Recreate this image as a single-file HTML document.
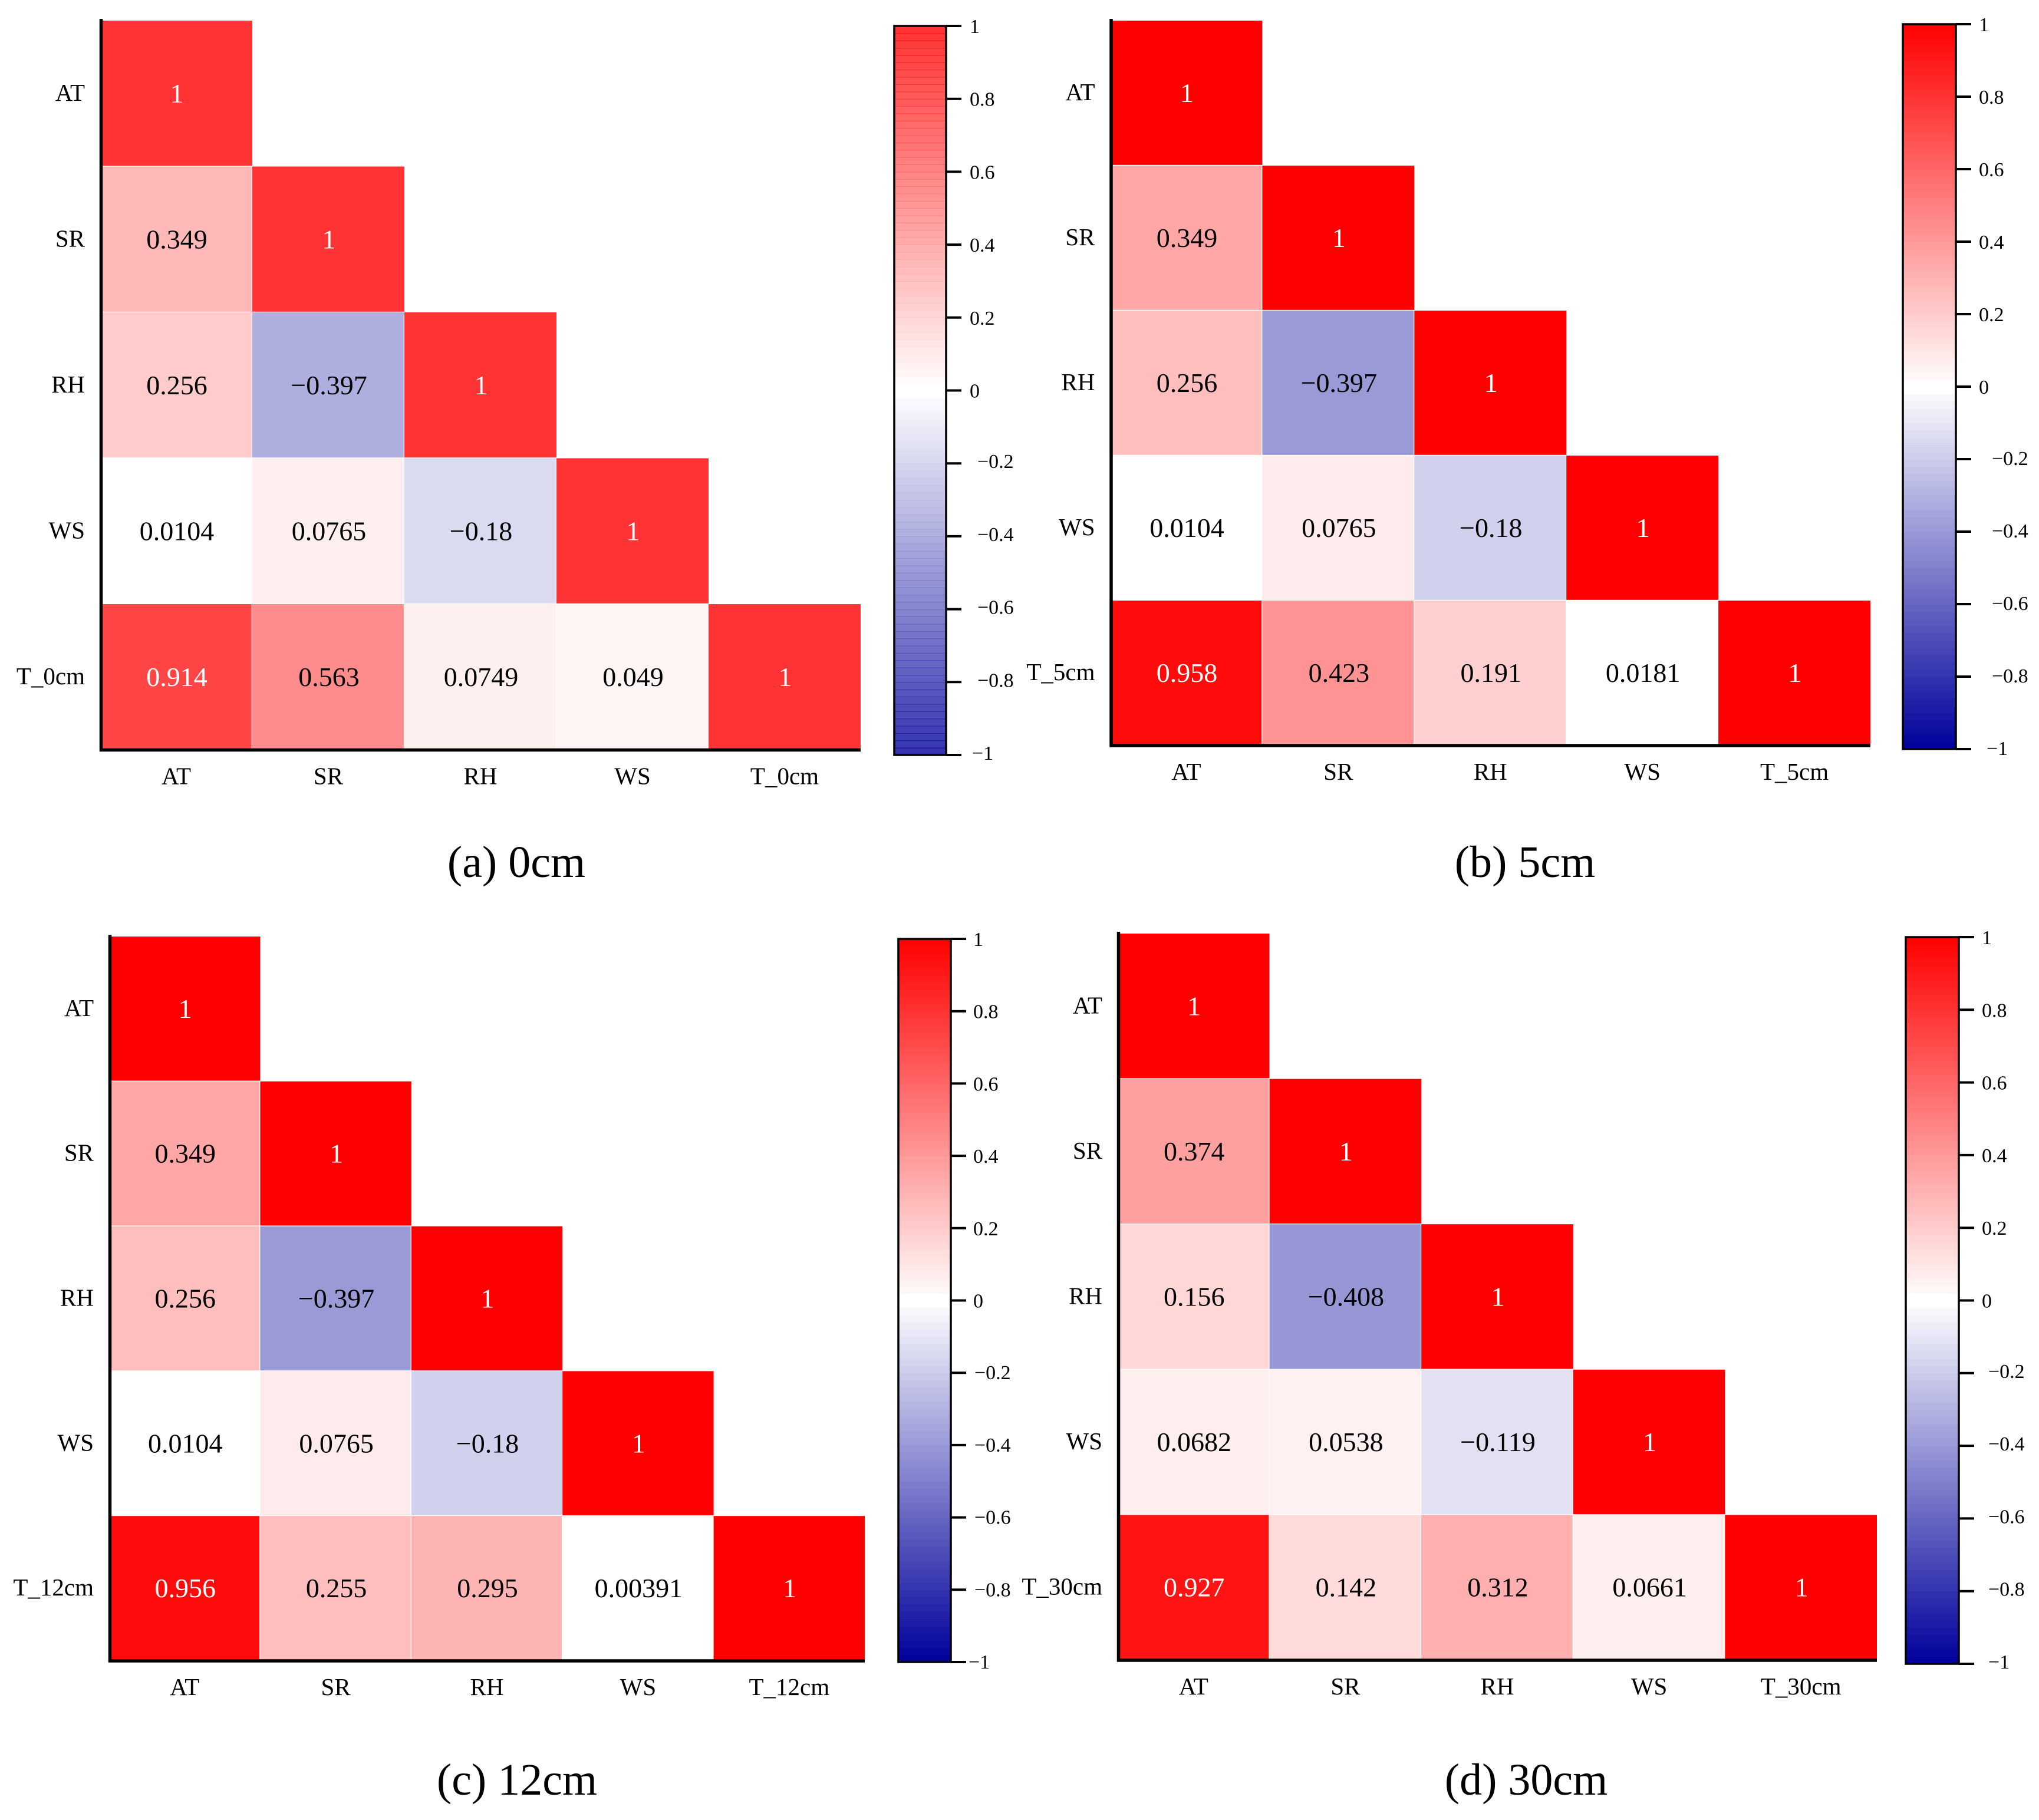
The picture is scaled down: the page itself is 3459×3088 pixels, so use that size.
<!DOCTYPE html>
<html lang="en">
<head>
<meta charset="utf-8">
<title>Correlation heatmaps at four soil depths</title>
<style>
html,body{margin:0;padding:0;background:#fff;}
svg{display:block;}
text{font-family:"Liberation Serif","Times New Roman",serif;fill:#000;}
</style>
</head>
<body>
<svg id="figure" xmlns="http://www.w3.org/2000/svg" width="3459" height="3088" viewBox="0 0 3459 3088"></svg>
<script>
// ---- chart data ----
const categoriesA = ["AT", "SR", "RH", "WS", "T_0cm"];
const categoriesB = ["AT", "SR", "RH", "WS", "T_5cm"];
const categoriesC = ["AT", "SR", "RH", "WS", "T_12cm"];
const categoriesD = ["AT", "SR", "RH", "WS", "T_30cm"];

const valuesA = [
  [1],
  [0.349, 1],
  [0.256, -0.397, 1],
  [0.0104, 0.0765, -0.18, 1],
  [0.914, 0.563, 0.0749, 0.049, 1]
];
const valuesB = [
  [1],
  [0.349, 1],
  [0.256, -0.397, 1],
  [0.0104, 0.0765, -0.18, 1],
  [0.958, 0.423, 0.191, 0.0181, 1]
];
const valuesC = [
  [1],
  [0.349, 1],
  [0.256, -0.397, 1],
  [0.0104, 0.0765, -0.18, 1],
  [0.956, 0.255, 0.295, 0.00391, 1]
];
const valuesD = [
  [1],
  [0.374, 1],
  [0.156, -0.408, 1],
  [0.0682, 0.0538, -0.119, 1],
  [0.927, 0.142, 0.312, 0.0661, 1]
];

const colorbarTicks = [1, 0.8, 0.6, 0.4, 0.2, 0, -0.2, -0.4, -0.6, -0.8, -1];
const captionA = "(a) 0cm";
const captionB = "(b) 5cm";
const captionC = "(c) 12cm";
const captionD = "(d) 30cm";

// ---- layout (styling only, no data) ----
const panelA = {id:"a", cats:categoriesA, vals:valuesA, caption:captionA, alpha:0.8,
  left:170, right:1460, top:35, bottom:1272.5, capX:876, capY:1488,
  barL:1517, barR:1605, barT:44, barB:1281, lblPos:14, lblNeg:27, lblOne:18, lblDrop:4};
const panelB = {id:"b", cats:categoriesB, vals:valuesB, caption:captionB, alpha:1,
  left:1883.5, right:3173, top:35, bottom:1265, capX:2587, capY:1488,
  barL:3228, barR:3318, barT:41, barB:1271, lblPos:13, lblNeg:35, lblOne:26, lblDrop:2};
const panelC = {id:"c", cats:categoriesC, vals:valuesC, caption:captionC, alpha:1,
  left:185, right:1467, top:1589, bottom:2818, capX:877, capY:3045,
  barL:1524, barR:1613, barT:1593, barB:2820, lblPos:12, lblNeg:14, lblOne:4, lblDrop:1};
const panelD = {id:"d", cats:categoriesD, vals:valuesD, caption:captionD, alpha:1,
  left:1896, right:3184, top:1584, bottom:2817, capX:2589, capY:3045,
  barL:3233, barR:3323, barT:1590, barB:2823, lblPos:13, lblNeg:24, lblOne:24, lblDrop:4};

const SVGNS = "http://www.w3.org/2000/svg";
const root = document.getElementById("figure");

function make(tag, parent, attrs, text) {
  const node = document.createElementNS(SVGNS, tag);
  for (const k in attrs) node.setAttribute(k, attrs[k]);
  if (text !== undefined) node.textContent = text;
  parent.appendChild(node);
  return node;
}

// colour axis: white at 0 (with a small dead zone), red at +1, navy at -1
function colorScale(v) {
  const level = Math.abs(v) < 0.02 ? 0 : Math.min(1, Math.abs(v));
  const c = Math.round(255 * (1 - level));
  if (v >= 0) return "rgb(255," + c + "," + c + ")";
  const b = Math.round(255 - level * 100);
  return "rgb(" + c + "," + c + "," + b + ")";
}
function printValue(v) {
  return String(v).replace("-", "\u2212");
}

function drawPanel(p) {
  const n = p.cats.length;
  const xScale = i => p.left + i * (p.right - p.left) / n;
  const yScale = i => p.top + i * (p.bottom - p.top) / n;
  const barY = v => p.barT + (1 - v) / 2 * (p.barB - p.barT);
  const cw = (p.right - p.left) / n;
  const ch = (p.bottom - p.top) / n;

  const g = make("g", root, {});
  
  

  // cells
  p.vals.forEach((row, r) => {
    row.forEach((v, c) => {
      const cell = make("rect", g, {
        x: xScale(c), y: yScale(r),
        width: cw - (c < r ? 1.2 : 0), height: ch - (r < n - 1 ? 1.2 : 0),
        fill: colorScale(v), "fill-opacity": p.alpha
      });
      
      
      const txt = make("text", g, {
        x: xScale(c) + cw / 2 + 1, y: yScale(r) + ch / 2 + 15,
        "text-anchor": "middle", "font-size": 46,
        style: "fill:" + (Math.abs(v) > 0.8 ? "#fff" : "#000")
      }, printValue(v));
      
      
    });
  });

  // axes
  const yAxis = make("line", g, {x1: p.left + 1.5, x2: p.left + 1.5, y1: p.top - 3, y2: p.bottom + 2.5, stroke: "#000", "stroke-width": 5.5});
  
  
  const xAxis = make("line", g, {x1: p.left - 1, x2: p.right, y1: p.bottom, y2: p.bottom, stroke: "#000", "stroke-width": 5.5});
  
  

  // category labels
  p.cats.forEach((name, i) => {
    const xl = make("text", g, {
      x: xScale(i) + cw / 2, y: p.bottom + 58,
      "text-anchor": "middle", "font-size": 41
    }, name);
    
    
    const yl = make("text", g, {
      x: p.left - 26, y: yScale(i) + ch / 2 + 12,
      "text-anchor": "end", "font-size": 41
    }, name);
    
    
  });

  // colour bar
  const bar = make("g", g, {});
  
  
  for (let i = 0; i < 100; i++) {
    const low = -1 + i * 0.02;
    const yTop = barY(low + 0.02);
    const yBot = barY(low);
    const band = make("rect", bar, {
      x: p.barL, y: yTop, width: p.barR - p.barL,
      height: (yBot - yTop) + (p.alpha < 1 ? 1 : 0.5),
      fill: colorScale(low + 0.01), "fill-opacity": p.alpha
    });
    
    
  }
  const frame = make("rect", bar, {x: p.barL, y: p.barT, width: p.barR - p.barL, height: p.barB - p.barT, fill: "none", stroke: "#000", "stroke-width": 3.5});
  
  
  colorbarTicks.forEach(t => {
    const y = barY(t);
    const tick = make("line", bar, {x1: p.barR, x2: p.barR + 26, y1: y, y2: y, stroke: "#000", "stroke-width": 4});
    
    
    const off = t >= 0 ? p.lblPos : (t === -1 ? p.lblOne : p.lblNeg);
    const lift = t < 0 ? p.lblDrop : 0;
    const lbl = make("text", bar, {x: p.barR + 26 + off, y: y + 12 - lift, "font-size": 34}, printValue(t));
    
    
  });

  // caption
  const cap = make("text", g, {x: p.capX, y: p.capY, "text-anchor": "middle", "font-size": 76}, p.caption);
  
  
}

[panelA, panelB, panelC, panelD].forEach(drawPanel);
</script>
</body>
</html>
